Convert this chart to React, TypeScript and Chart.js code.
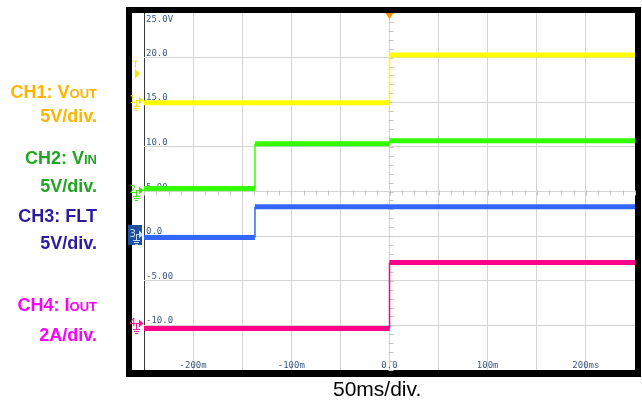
import { useEffect, useRef } from "react";
import { Chart, registerables } from "chart.js";

Chart.register(...registerables);

// ---- Data (time in ms, display value in divisions*5 -> "V" grid units) ----
const ch1Times = [-250, 0, 0, 250];
const ch1Values = [14.95, 14.95, 20.3, 20.3];
const ch2Times = [-250, -137, -137, 0, 0, 250];
const ch2Values = [5.35, 5.35, 10.35, 10.35, 10.7, 10.7];
const ch3Times = [-250, -137, -137, 250];
const ch3Values = [-0.15, -0.15, 3.3, 3.3];
const ch4Times = [-250, 0, 0, 250];
const ch4Values = [-10.35, -10.35, -2.95, -2.95];

const xLabelValues = [-200, -100, 0, 100, 200];
const xLabelTexts = ["-200m", "-100m", "0.0", "100m", "200ms"];
const yLabelValues = [25, 20, 15, 10, 5, 0, -5, -10];
const yLabelTexts = ["25.0V", "20.0", "15.0", "10.0", "5.00", "0.0", "-5.00", "-10.0"];

const channelNames = ["1", "2", "3", "4"];
const channelRefs = [15, 5, 0, -10];
const triggerLevel = 18.2;

const labelMains = ["CH1: V", "CH2: V", "CH3: FLT", "CH4: I"];
const labelSubs = ["OUT", "IN", "", "OUT"];
const labelScales = ["5V/div.", "5V/div.", "5V/div.", "2A/div."];
const timeBaseText = "50ms/div.";

const traceColors = ["#ffff00", "#33ff00", "#3366ff", "#ff0088"];
const markerColors = ["#f2e600", "#33e600", "#1d4f9c", "#ff1493"];
const labelColors = ["#ffb400", "#20a620", "#2b1b9e", "#ff00ff"];

const X_MIN = -250, X_MAX = 250, Y_MIN = -15, Y_MAX = 25;

function pts(t: number[], v: number[]) {
  return t.map((x, i) => ({ x, y: v[i] }));
}

const scopePlugin = {
  id: "scope",
  beforeDraw(chart: any) {
    const ctx = chart.ctx;
    ctx.save();
    ctx.fillStyle = "#ffffff";
    ctx.fillRect(0, 0, chart.width, chart.height);
    ctx.fillStyle = "#000000";
    ctx.fillRect(126, 7, 515, 370);
    ctx.fillStyle = "#ffffff";
    ctx.fillRect(132, 13, 503, 357);
    ctx.restore();
  },
  beforeDatasetsDraw(chart: any) {
    const ctx = chart.ctx;
    const xs = chart.scales.x, ys = chart.scales.y;
    const a = chart.chartArea;
    ctx.save();
    // center axes minor ticks
    ctx.strokeStyle = "#c4c4c4";
    ctx.lineWidth = 1;
    const cx = Math.round(xs.getPixelForValue(0)) + 0.5;
    const cy = Math.round(ys.getPixelForValue(5)) + 0.5;
    ctx.beginPath();
    for (let v = Y_MIN; v <= Y_MAX; v += 1) {
      const y = Math.round(ys.getPixelForValue(v)) + 0.5;
      ctx.moveTo(cx - 2, y);
      ctx.lineTo(cx + 3, y);
    }
    for (let t = X_MIN; t <= X_MAX; t += 12.5) {
      const x = Math.round(xs.getPixelForValue(t)) + 0.5;
      ctx.moveTo(x, cy - 2);
      ctx.lineTo(x, cy + 3);
    }
    ctx.stroke();
    // labels inside graticule
    ctx.font = "9px 'DejaVu Sans Mono'";
    ctx.fillStyle = "#3c5a82";
    ctx.textAlign = "left";
    ctx.textBaseline = "alphabetic";
    yLabelValues.forEach((v, i) => {
      const y = v === Y_MAX ? a.top + 9 : ys.getPixelForValue(v) - 2;
      ctx.fillText(yLabelTexts[i], a.left + 2, y);
    });
    ctx.textAlign = "center";
    xLabelValues.forEach((t, i) => {
      ctx.fillText(xLabelTexts[i], xs.getPixelForValue(t), a.bottom - 2);
    });
    ctx.restore();
  },
  afterDraw(chart: any) {
    const ctx = chart.ctx;
    const xs = chart.scales.x, ys = chart.scales.y;
    const a = chart.chartArea;
    ctx.save();
    // trigger position marker (top)
    const tx = xs.getPixelForValue(0);
    ctx.fillStyle = "#ff8c00";
    ctx.beginPath();
    ctx.moveTo(tx - 4, a.top);
    ctx.lineTo(tx + 4, a.top);
    ctx.lineTo(tx, a.top + 6);
    ctx.closePath();
    ctx.fill();

    // trigger level marker
    const ty = ys.getPixelForValue(triggerLevel);
    ctx.strokeStyle = markerColors[0];
    ctx.fillStyle = markerColors[0];
    ctx.lineWidth = 1;
    ctx.beginPath();
    ctx.moveTo(133, ty - 12.5);
    ctx.lineTo(138, ty - 12.5);
    ctx.moveTo(135.5, ty - 12.5);
    ctx.lineTo(135.5, ty - 6);
    ctx.stroke();
    ctx.beginPath();
    ctx.moveTo(135, ty - 5);
    ctx.lineTo(140, ty);
    ctx.lineTo(135, ty + 5);
    ctx.closePath();
    ctx.fill();

    // channel ground markers
    channelRefs.forEach((v, i) => {
      const y = Math.round(ys.getPixelForValue(v)) - 2;
      const c = markerColors[i];
      if (i === 2) {
        ctx.fillStyle = c;
        ctx.fillRect(128, y - 9, 14, 20);
        ctx.fillStyle = "#c8d8ff";
        ctx.strokeStyle = "#c8d8ff";
      } else {
        ctx.fillStyle = c;
        ctx.strokeStyle = c;
      }
      ctx.font = "10px 'DejaVu Sans'";
      ctx.textAlign = "left";
      ctx.textBaseline = "middle";
      ctx.fillText(channelNames[i], 129.5, y);
      ctx.lineWidth = 1;
      ctx.beginPath();
      ctx.moveTo(136, y + 0.5);
      ctx.lineTo(140, y + 0.5);
      ctx.moveTo(136.5, y);
      ctx.lineTo(136.5, y + 6);
      ctx.moveTo(133, y + 6.5);
      ctx.lineTo(140, y + 6.5);
      ctx.moveTo(134, y + 8.5);
      ctx.lineTo(139, y + 8.5);
      ctx.moveTo(135, y + 10.5);
      ctx.lineTo(138, y + 10.5);
      ctx.stroke();
      ctx.beginPath();
      ctx.moveTo(139, y - 3.5);
      ctx.lineTo(143.5, y + 0.5);
      ctx.lineTo(139, y + 4.5);
      ctx.closePath();
      ctx.fill();
    });

    // left channel labels
    const right = 97;
    const baseMain = [98, 164, 222, 311];
    const baseScale = [122, 192, 249, 341];
    ctx.textBaseline = "alphabetic";
    ctx.textAlign = "left";
    labelMains.forEach((m, i) => {
      ctx.fillStyle = labelColors[i];
      ctx.font = "bold 13px 'Liberation Sans'";
      const sw = labelSubs[i] ? ctx.measureText(labelSubs[i]).width : 0;
      ctx.font = "bold 18px 'Liberation Sans'";
      const mw = ctx.measureText(m).width;
      ctx.fillText(m, right - sw - mw, baseMain[i]);
      if (labelSubs[i]) {
        ctx.font = "bold 13px 'Liberation Sans'";
        ctx.fillText(labelSubs[i], right - sw, baseMain[i]);
      }
      ctx.font = "bold 18px 'Liberation Sans'";
      const w = ctx.measureText(labelScales[i]).width;
      ctx.fillText(labelScales[i], right - w, baseScale[i]);
    });

    // time base
    ctx.fillStyle = "#000000";
    ctx.font = "21px 'Liberation Sans'";
    ctx.fillText(timeBaseText, 333, 396);
    ctx.restore();
  },
};

export default function App() {
  const ref = useRef<HTMLCanvasElement | null>(null);
  useEffect(() => {
    document.body.style.margin = "0";
    const canvas = ref.current;
    if (!canvas) return;
    const series = [
      pts(ch1Times, ch1Values),
      pts(ch2Times, ch2Values),
      pts(ch3Times, ch3Values),
      pts(ch4Times, ch4Values),
    ];
    const chart = new Chart(canvas, {
      type: "line",
      data: {
        datasets: series.map((d, i) => ({
          label: "CH" + (i + 1),
          data: d,
          borderColor: traceColors[i],
          borderWidth: 5,
          pointRadius: 0,
          tension: 0,
          fill: false,
          segment: {
            borderWidth: (c: any) => (c.p0.parsed.x === c.p1.parsed.x ? 1.5 : 5),
          },
        })),
      },
      options: {
        animation: false,
        responsive: false,
        devicePixelRatio: 1,
        layout: { padding: { left: 144, right: 7, top: 13, bottom: 32 } },
        plugins: { legend: { display: false }, tooltip: { enabled: false } },
        scales: {
          x: {
            type: "linear",
            min: X_MIN,
            max: X_MAX,
            ticks: { display: false, stepSize: 50 },
            border: { display: false },
            grid: {
              drawTicks: false,
              lineWidth: 1,
              color: (c: any) =>
                c.tick && c.tick.value === X_MIN
                  ? "#3a3a3a"
                  : c.tick && c.tick.value === X_MAX
                  ? "rgba(0,0,0,0)"
                  : "#d4d4d4",
            },
          },
          y: {
            type: "linear",
            min: Y_MIN,
            max: Y_MAX,
            ticks: { display: false, stepSize: 5 },
            border: { display: false },
            grid: {
              drawTicks: false,
              lineWidth: 1,
              color: (c: any) =>
                c.tick && (c.tick.value === Y_MIN || c.tick.value === Y_MAX)
                  ? "rgba(0,0,0,0)"
                  : "#d4d4d4",
            },
          },
        },
      },
      plugins: [scopePlugin],
    } as any);
    return () => chart.destroy();
  }, []);
  return (
    <div style={{ width: 642, height: 402 }}>
      <canvas ref={ref} width={642} height={402} style={{ display: "block" }} />
    </div>
  );
}
